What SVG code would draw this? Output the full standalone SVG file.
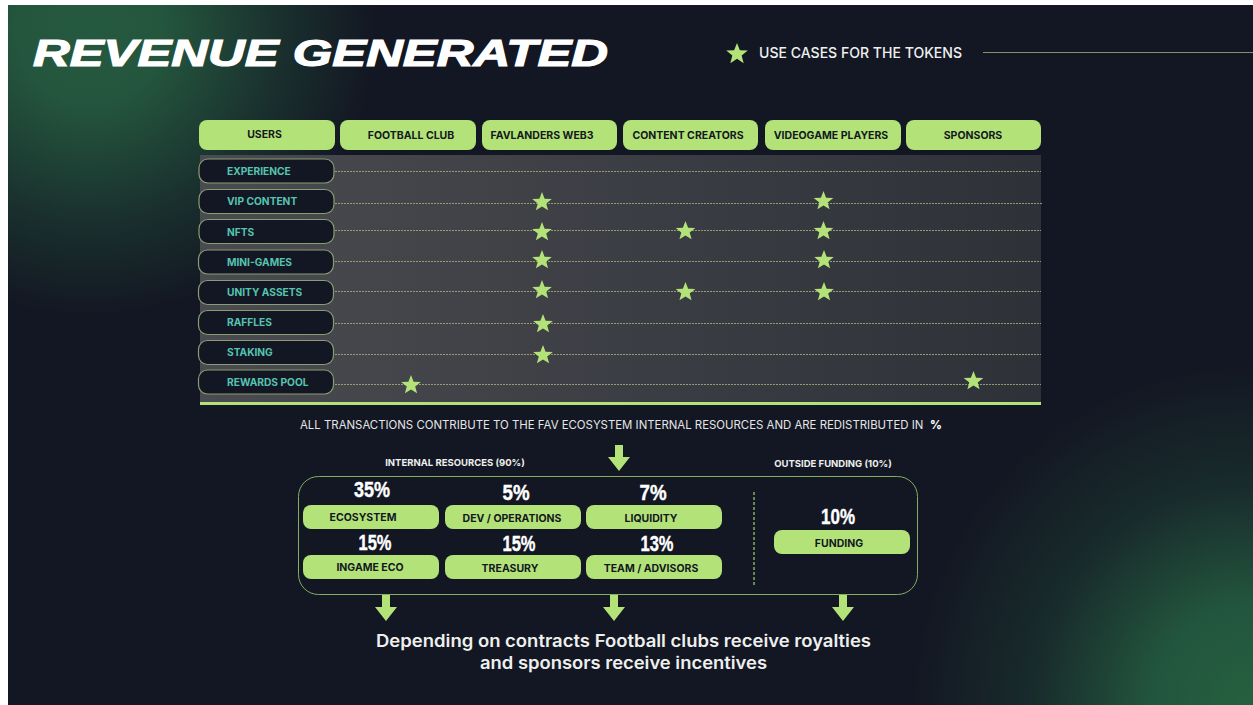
<svg xmlns="http://www.w3.org/2000/svg" width="1253" height="705" viewBox="0 0 1253 705">
<defs>
<radialGradient id="g1" gradientUnits="userSpaceOnUse" cx="90" cy="30" r="285"><stop offset="0" stop-color="#25593f"/><stop offset=".25" stop-color="#24563e"/><stop offset=".65" stop-color="#25593f" stop-opacity=".4"/><stop offset="1" stop-color="#25593f" stop-opacity="0"/></radialGradient>
<radialGradient id="g2" gradientUnits="userSpaceOnUse" cx="1253" cy="705" r="340"><stop offset="0" stop-color="#25603f"/><stop offset=".3" stop-color="#245c40" stop-opacity=".9"/><stop offset=".65" stop-color="#25593f" stop-opacity=".3"/><stop offset="1" stop-color="#25593f" stop-opacity="0"/></radialGradient>
<linearGradient id="panel" x1="0" x2="1" y1="0" y2="0"><stop offset="0" stop-color="#494b50"/><stop offset="1" stop-color="#2f3139"/></linearGradient>
<polygon id="star" points="0,-10 2.6,-3.3 9.8,-3.1 4.2,1.4 6.1,8.3 0,4.4 -6.1,8.3 -4.2,1.4 -9.8,-3.1 -2.6,-3.3"/>
<polygon id="arrow" points="-4,-13 4,-13 4,-1 11,-1 0,13 -11,-1 -4,-1"/>
</defs>
<style>
.f{font-family:Inter,"Liberation Sans",sans-serif}
.hd{fill:#b3e378}
.hdt{font:700 10.500px Inter,"Liberation Sans",sans-serif;fill:#14181f;text-anchor:middle}
.row{fill:#131723;stroke:#8a9c72;stroke-width:1.200}
.rowt{font:700 10.200px Inter,"Liberation Sans",sans-serif;fill:#55c4b0}
.dot{stroke:#a3ad7c;stroke-width:1;stroke-dasharray:2 1;fill:none;opacity:.85}
.st{fill:#b3e378}
.pct{font:700 22px "Liberation Sans",sans-serif;fill:#fff;stroke:#fff;stroke-width:.4;text-anchor:middle}
.wt{font:700 9.500px Inter,"Liberation Sans",sans-serif;fill:#eef0ee;text-anchor:middle}
</style>
<rect width="1253" height="705" fill="#fff"/>
<rect x="8" y="5" width="1245" height="700" fill="#131723"/>
<rect x="8" y="5" width="400" height="330" fill="url(#g1)"/>
<rect x="900" y="360" width="353" height="345" fill="url(#g2)"/>
<g id="title"><text x="33" y="66" font-family="'Liberation Sans',sans-serif" font-weight="700" font-style="italic" font-size="37" fill="#fff" stroke="#fff" stroke-width="1.200" textLength="575" lengthAdjust="spacingAndGlyphs">REVENUE GENERATED</text></g>
<g id="legend"><use href="#star" transform="translate(737,54) scale(1.1)" class="st"/><text x="759" y="58" class="f" font-size="14.500" font-weight="500" fill="#eef0ee" textLength="203" lengthAdjust="spacingAndGlyphs">USE CASES FOR THE TOKENS</text></g>
<rect x="200" y="155" width="841" height="248" fill="url(#panel)"/>
<rect x="200" y="402" width="841" height="3" fill="#b3e378"/>
<g id="connectors">
<line x1="983" y1="52.500" x2="1253" y2="52.500" stroke="#7f9669" stroke-width="1"/>
<path class="dot" d="M335 171.500H1041M335 203.500H1042M335 230.500H1041M335 261.500H1041M335 291.500H1041M335 323.500H1041M335 354.500H1041M335 384.500H1041"/>
<use href="#arrow" transform="translate(619,458)" class="st"/>
<use href="#arrow" transform="translate(386,608)" class="st"/>
<use href="#arrow" transform="translate(614,608)" class="st"/>
<use href="#arrow" transform="translate(843,608)" class="st"/>
</g>
<g id="header-users"><rect class="hd" x="199" y="120" width="136" height="30" rx="8"/><text class="hdt" x="264.500" y="138">USERS</text></g>
<g id="header-football"><rect class="hd" x="340" y="120" width="136" height="30" rx="8"/><text class="hdt" x="411" y="139">FOOTBALL CLUB</text></g>
<g id="header-favlanders"><rect class="hd" x="482" y="120" width="135" height="30" rx="8"/><text class="hdt" x="542" y="139">FAVLANDERS WEB3</text></g>
<g id="header-creators"><rect class="hd" x="623" y="120" width="135" height="30" rx="8"/><text class="hdt" x="688" y="139">CONTENT CREATORS</text></g>
<g id="header-players"><rect class="hd" x="765" y="120" width="136" height="30" rx="8"/><text class="hdt" x="831" y="139">VIDEOGAME PLAYERS</text></g>
<g id="header-sponsors"><rect class="hd" x="906" y="120" width="135" height="30" rx="8"/><text class="hdt" x="973" y="139">SPONSORS</text></g>
<g id="row-experience"><rect class="row" x="199" y="159" width="135" height="24" rx="9"/><text class="rowt" x="227" y="174.500">EXPERIENCE</text></g>
<g id="row-vip"><rect class="row" x="199" y="189.500" width="135" height="24" rx="9"/><text class="rowt" x="227" y="204.500">VIP CONTENT</text></g>
<g id="row-nfts"><rect class="row" x="199" y="219.500" width="135" height="24" rx="9"/><text class="rowt" x="227" y="235.500">NFTS</text></g>
<g id="row-minigames"><rect class="row" x="198.500" y="250" width="135" height="24" rx="9"/><text class="rowt" x="227" y="265.500">MINI-GAMES</text></g>
<g id="row-unity"><rect class="row" x="198.500" y="280.500" width="135" height="24" rx="9"/><text class="rowt" x="227" y="296">UNITY ASSETS</text></g>
<g id="row-raffles"><rect class="row" x="198.500" y="310.500" width="135" height="24" rx="9"/><text class="rowt" x="227" y="326">RAFFLES</text></g>
<g id="row-staking"><rect class="row" x="198.500" y="340.500" width="135" height="24" rx="9"/><text class="rowt" x="227" y="356">STAKING</text></g>
<g id="row-rewards"><rect class="row" x="198.500" y="370" width="135" height="24" rx="9"/><text class="rowt" x="227" y="386">REWARDS POOL</text></g>
<g id="stars" class="st">
<use href="#star" x="542" y="202"/><use href="#star" x="823.500" y="201"/>
<use href="#star" x="542" y="232"/><use href="#star" x="685.500" y="231"/><use href="#star" x="823.500" y="231"/>
<use href="#star" x="542" y="260"/><use href="#star" x="824" y="260"/>
<use href="#star" x="542" y="290"/><use href="#star" x="685.500" y="292"/><use href="#star" x="824" y="292"/>
<use href="#star" x="543" y="324"/><use href="#star" x="543" y="355"/>
<use href="#star" x="411" y="385"/><use href="#star" x="973.500" y="381"/>
</g>
<g id="note"><text x="300" y="429" class="f" font-size="11.400" fill="#e4e6e6">ALL TRANSACTIONS CONTRIBUTE TO THE FAV ECOSYSTEM INTERNAL RESOURCES AND ARE REDISTRIBUTED IN</text><text x="930" y="429" class="f" font-size="11.500" font-weight="800" fill="#fff">%</text></g>
<g id="resources">
<rect x="298.500" y="476.500" width="619" height="118" rx="20" fill="#131723" stroke="#87ad5f" stroke-width="1"/>
<path d="M754 492V585" stroke="#87ad5f" stroke-width="1.500" stroke-dasharray="3 2" fill="none"/>
<text class="wt" x="455" y="466">INTERNAL RESOURCES (90%)</text>
<text class="wt" x="833" y="467">OUTSIDE FUNDING (10%)</text>
</g>
<g id="alloc-ecosystem"><text class="pct" x="372" y="497" textLength="36" lengthAdjust="spacingAndGlyphs">35%</text><rect class="hd" x="303" y="505" width="136" height="24" rx="8"/><text class="hdt" x="363" y="521">ECOSYSTEM</text></g>
<g id="alloc-dev"><text class="pct" x="516" y="500" textLength="27" lengthAdjust="spacingAndGlyphs">5%</text><rect class="hd" x="445" y="505" width="136" height="24" rx="8"/><text class="hdt" x="512" y="522">DEV / OPERATIONS</text></g>
<g id="alloc-liquidity"><text class="pct" x="653" y="500" textLength="27" lengthAdjust="spacingAndGlyphs">7%</text><rect class="hd" x="586" y="505" width="136" height="24" rx="8"/><text class="hdt" x="651" y="522">LIQUIDITY</text></g>
<g id="alloc-ingame"><text class="pct" x="375" y="550" textLength="33" lengthAdjust="spacingAndGlyphs">15%</text><rect class="hd" x="303" y="555" width="136" height="24" rx="8"/><text class="hdt" x="370" y="571">INGAME ECO</text></g>
<g id="alloc-treasury"><text class="pct" x="519" y="551" textLength="33" lengthAdjust="spacingAndGlyphs">15%</text><rect class="hd" x="445" y="555" width="136" height="24" rx="8"/><text class="hdt" x="510" y="572">TREASURY</text></g>
<g id="alloc-team"><text class="pct" x="657" y="551" textLength="33" lengthAdjust="spacingAndGlyphs">13%</text><rect class="hd" x="586" y="555" width="136" height="24" rx="8"/><text class="hdt" x="651" y="572">TEAM / ADVISORS</text></g>
<g id="alloc-funding"><text class="pct" x="838" y="524" textLength="34" lengthAdjust="spacingAndGlyphs">10%</text><rect class="hd" x="774" y="530" width="136" height="24" rx="8"/><text class="hdt" x="839" y="547">FUNDING</text></g>
<g id="footer" class="f" font-size="17" font-weight="600" fill="#eef0ee"><text x="376" y="647" textLength="495" lengthAdjust="spacingAndGlyphs">Depending on contracts Football clubs receive royalties</text><text x="480" y="669" textLength="287" lengthAdjust="spacingAndGlyphs">and sponsors receive incentives</text></g>
</svg>
